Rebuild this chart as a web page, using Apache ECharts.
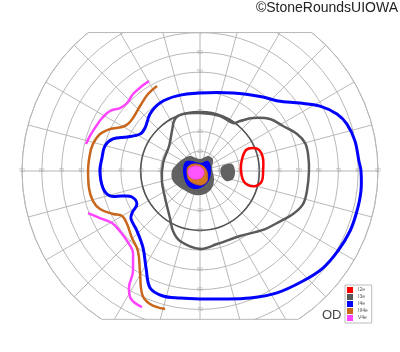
<!DOCTYPE html>
<html><head><meta charset="utf-8">
<script src="https://cdn.jsdelivr.net/npm/echarts@6/dist/echarts.min.js"></script>
<style>html,body{margin:0;padding:0;background:#fff}#c{width:400px;height:352px}</style>
</head><body><div id="c"></div>
<script>
// ---- data: isopters as [eccentricity (deg), meridian angle (deg)] ----
const hTickLabels = [10,20,30,40,50,60,70,80,90];
const vTickLabels = [10,20,30,40,50,60,70];
const legendNames = ['I2e','I3e','I4e','III4e','V4e'];

const i2e = [[22.1,15.9],[25.6,24.5],[29.2,23.5],[31.7,19.6],[32.5,11.7],[31.9,0],[31.7,350.8],[29.3,345],[25.3,343.7],[22.2,348.2],[20.7,2.8]];

const i3eOuter = [[55.1,0],[55.3,8.9],[55,14.9],[52.5,20.9],[47.7,28.5],[44.1,36.6],[37.9,45],[32.4,51.3],[29.4,55.5],[29.6,70],[29.3,90],[30.1,106.6],[29.2,115.7],[24.7,125],[20.1,141],[19.1,167.8],[19.9,194.7],[22.3,217.6],[28.2,237.4],[33.3,245.8],[36.8,254],[39.4,270],[37.9,283.1],[38.6,301.6],[43.6,316.9],[47,326],[51.8,335.2],[54.7,342.2],[55,349.4]];
const i3eCenter = [[8.9,42.7],[6.3,14],[8.2,330],[10.5,305],[11.9,282],[12.4,258],[12.6,230],[14.6,200],[14.2,180],[12.2,163],[10.5,145],[9.1,124],[6.1,90],[8.6,62]];
const i3eSpot = [[12.5,14],[16.6,12.3],[17.7,0],[17.2,346.4],[14.1,339],[10.8,349],[10.7,8.1]];

const i4eOuter = [[81.4,0],[80.5,3.6],[79.8,11],[78,17.7],[75,22.6],[69,28.4],[61.1,34.2],[53,41.9],[49.1,49.6],[42.8,67],[39.4,90],[39.7,107],[39.9,120.5],[38.3,131.3],[35.3,142],[35.6,148.3],[40.7,155],[46.9,159.8],[49.7,165.3],[50,172.4],[50.6,180],[49.8,190],[47.2,195.5],[41.4,197.8],[36.8,200.9],[36,207.6],[40.4,211.7],[42.5,214.8],[44,223.6],[48.4,233.5],[56.1,240.9],[64.3,246.9],[65.9,253.5],[65,261],[64.7,270],[65.5,278.9],[69,291.5],[72.9,302.3],[76.2,313.1],[79.2,321.7],[80.6,329.9],[81.7,338.2],[81.9,345.7],[82,352.9]];
const i4eCenter = [[8.8,149],[6.5,128.7],[4,90],[6.5,51.3],[5.9,20],[6.2,325],[7.5,289.7],[9.2,260.5],[9.8,235.5],[9.1,213.7],[8.6,180]];

const iii4eOuter = [[48.2,116.8],[47,124],[44.7,132.7],[43.2,141.6],[43.5,146.9],[45.3,150.6],[50.2,155],[53.9,159.7],[55.8,165.8],[56.3,171.2],[56.6,180],[56.8,188.7],[56.2,195.7],[54.1,200.8],[49,206.3],[45.5,210],[45.6,216],[48.3,224.6],[51.2,232.2],[59,239],[68.8,244.8],[71.8,249.4],[72,255.8]];
const iii4eCenter = [[6.4,161.6],[4.7,130.6],[2.9,59],[3.6,352],[6.2,305],[7.1,278],[7,249],[7.2,219],[6.6,189]];

const v4eUpper = [[52.3,119.5],[52,124.3],[51.6,131],[50.4,137],[51.5,141.8],[54.7,146.3],[56.3,151.6],[57.4,157.7],[58.4,162.3],[59.2,166.7]];
const v4eLower = [[60.5,200.6],[55.9,205.2],[51.7,210.6],[50.7,216.1],[51.1,223.8],[53.9,231.1],[60.9,236.2],[69.2,238.7],[73.5,241.7],[74.8,246.9]];
const v4eCenter = [[5.7,169.7],[3.2,128.7],[1.8,56],[2.3,333],[3.6,278],[5.1,233],[6.1,204.4]];

// ---- layout / style ----
const CENTER = [200, 171], R = 178, MAXDEG = 90;
const TOP_CLIP = 70, BOTTOM_CLIP = 75;
const COL = {I2e:'#ff0000', I3e:'#5a5a5a', I4e:'#0000ff', III4e:'#c8661c', V4e:'#ff44ff'};
const GRID = '#b8b8b8';

function shape(name, pts, opt) {
  return {
    type:'custom', name, coordinateSystem:'polar', polarIndex:0, data: pts, z: opt.z || 5, silent:true,
    itemStyle:{color: COL[name]},
    renderItem: function (params, api) {
      if (params.dataIndex !== 0) return null;
      return {type:'polygon', shape:{points: pts.map(p => api.coord(p)), smooth: 0.35},
        style:{fill: opt.fill || 'none', stroke: opt.stroke || COL[name], lineWidth: opt.width || 0, opacity: opt.opacity || 1}};
    }
  };
}
function openLine(name, pts, width) {
  return {type:'line', name, coordinateSystem:'polar', polarIndex:0, data: pts, smooth:0.4,
    showSymbol:false, silent:true, z:6, lineStyle:{color: COL[name], width}, itemStyle:{color: COL[name]}};
}

const tickPts = [].concat(
  hTickLabels.map(v => [v, 0]), hTickLabels.map(v => [v, 180]),
  vTickLabels.map(v => [v, 90]), vTickLabels.map(v => [v, 270]));

const k = R / MAXDEG;
const yTop = CENTER[1] - TOP_CLIP * k, yBot = CENTER[1] + BOTTOM_CLIP * k;
const hTop = Math.sqrt(R*R - (TOP_CLIP*k)**2), hBot = Math.sqrt(R*R - (BOTTOM_CLIP*k)**2);

const chart = echarts.init(document.getElementById('c'));
chart.setOption({
  animation:false,
  textStyle:{fontFamily:'Liberation Sans, Arial, sans-serif'},
  polar:[{center: CENTER, radius: R}, {center: CENTER, radius: R * 30 / MAXDEG}],
  angleAxis:[
    {polarIndex:0, type:'value', min:0, max:360, interval:15, startAngle:0, clockwise:false,
     axisLine:{show:true, lineStyle:{color:GRID, width:1}}, axisTick:{show:false}, axisLabel:{show:false},
     splitLine:{show:true, lineStyle:{color:GRID, width:1}}},
    {polarIndex:1, type:'value', min:0, max:360, startAngle:0, clockwise:false,
     axisLine:{show:true, lineStyle:{color:'#555', width:1.6}}, axisTick:{show:false}, axisLabel:{show:false}, splitLine:{show:false}}
  ],
  radiusAxis:[
    {polarIndex:0, type:'value', min:0, max:MAXDEG, interval:10,
     axisLine:{show:false}, axisTick:{show:false}, axisLabel:{show:false},
     splitLine:{show:true, lineStyle:{color:GRID, width:1}}},
    {polarIndex:1, type:'value', min:0, max:30, axisLine:{show:false}, axisTick:{show:false}, axisLabel:{show:false}, splitLine:{show:false}}
  ],
  legend:{data: legendNames, orient:'vertical', left:345, top:285, itemWidth:6, itemHeight:6, itemGap:1,
    icon:'rect', padding:[2,4,2,2], borderColor:'#bbb', borderWidth:1, backgroundColor:'#fff',
    selectedMode:false, z:300, textStyle:{fontSize:5, color:'#555'}},
  graphic:[
    {type:'rect', z:100, shape:{x:0, y:0, width:400, height:yTop}, style:{fill:'#fff'}},
    {type:'rect', z:100, shape:{x:0, y:yBot, width:400, height:352 - yBot}, style:{fill:'#fff'}},
    {type:'line', z:101, shape:{x1:CENTER[0]-hTop, y1:yTop, x2:CENTER[0]+hTop, y2:yTop}, style:{stroke:GRID, lineWidth:1}},
    {type:'line', z:101, shape:{x1:CENTER[0]-hBot, y1:yBot, x2:CENTER[0]+hBot, y2:yBot}, style:{stroke:GRID, lineWidth:1}},
    {type:'text', z:200, right:2, top:1, style:{text:'©StoneRoundsUIOWA', font:'14px "Liberation Sans", Arial, sans-serif', fill:'#222'}},
    {type:'text', z:200, left:322, top:309, style:{text:'OD', font:'13px "Liberation Sans", Arial, sans-serif', fill:'#444'}}
  ],
  series:[
    {type:'scatter', name:'ticks', coordinateSystem:'polar', polarIndex:0, data: tickPts, symbolSize:1, silent:true, z:3,
     itemStyle:{color:'rgba(0,0,0,0)'},
     label:{show:true, position:'inside', formatter: p => String(p.value[0]), fontSize:5, color:'#a0a0a0'}},
    shape('I3e', i3eCenter, {fill:'#5a5a5a', width:0, z:4, opacity:0.95}),
    shape('I3e', i3eSpot, {fill:'#5a5a5a', width:0, z:4, opacity:0.95}),
    shape('I4e', i4eCenter, {fill:'#0000ff', width:0, z:5}),
    shape('III4e', iii4eCenter, {fill:'#d37622', stroke:'#c8661c', width:1, z:6}),
    shape('V4e', v4eCenter, {fill:'#ff55ff', stroke:'#f040f0', width:0.8, z:7}),
    shape('I2e', i2e, {width:2.5, z:8}),
    shape('I3e', i3eOuter, {width:2.5, z:8}),
    shape('I4e', i4eOuter, {width:3, z:8}),
    openLine('III4e', iii4eOuter, 2.5),
    openLine('V4e', v4eUpper, 2.5),
    openLine('V4e', v4eLower, 2.5)
  ]
});
</script></body></html>
